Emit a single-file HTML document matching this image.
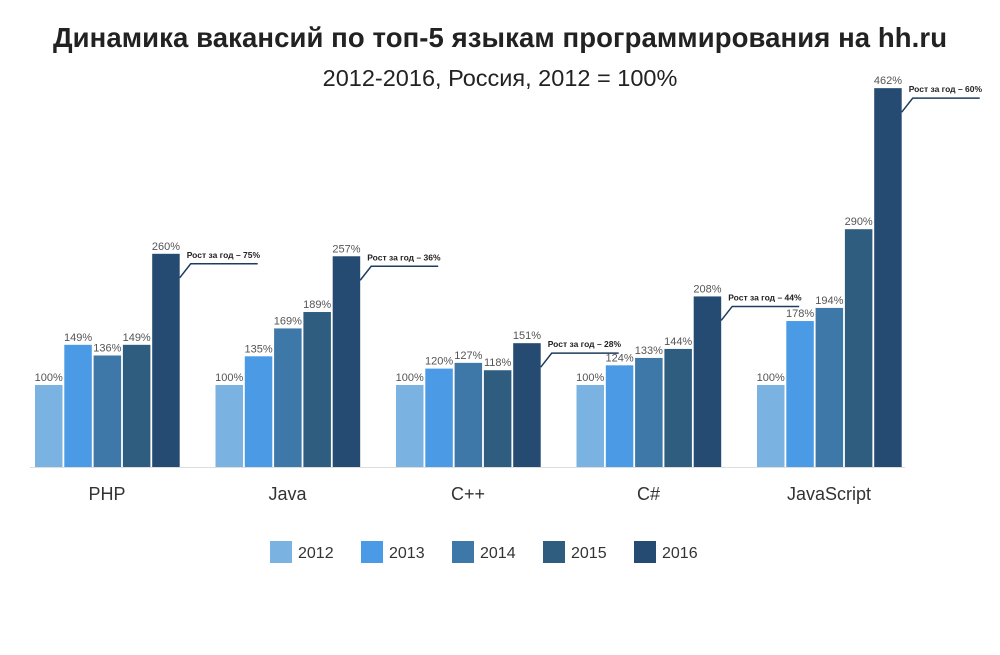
<!DOCTYPE html>
<html><head><meta charset="utf-8"><style>
body{margin:0;background:#fff;width:1000px;height:650px;overflow:hidden;font-family:"Liberation Sans",sans-serif}
</style></head><body>
<svg id="chart" width="1000" height="650" xmlns="http://www.w3.org/2000/svg">
<text x="500" y="47" text-anchor="middle" font-size="27.5" font-weight="bold" fill="#222" textLength="894">Динамика вакансий по топ-5 языкам программирования на hh.ru</text>
<text x="500" y="86" text-anchor="middle" font-size="23.5" fill="#222">2012-2016, Россия, 2012 = 100%</text>
<line x1="30" y1="467.5" x2="905" y2="467.5" stroke="#ddd" stroke-width="1"/>
<g id="bars"></g>
<g id="legend"></g>
</svg>
<script>
const categories=["PHP","Java","C++","C#","JavaScript"];
const years=["2012","2013","2014","2015","2016"];
const v2012=[100,100,100,100,100];
const v2013=[149,135,120,124,178];
const v2014=[136,169,127,133,194];
const v2015=[149,189,118,144,290];
const v2016=[260,257,151,208,462];
const growth=["75%","36%","28%","44%","60%"];
const series=[v2012,v2013,v2014,v2015,v2016];
const colors=["#7ab3e2","#4b9ae6","#3e78a8","#2e5d80","#264b72"];
const NS="http://www.w3.org/2000/svg";
const base=467, scale=0.82;
const y=v=>base-v*scale;
const gx=i=>35+i*180.5;
const bx=(i,s)=>gx(i)+s*29.3;
const g=document.getElementById('bars');
function mk(t,a){const e=document.createElementNS(NS,t);for(const k in a)e.setAttribute(k,a[k]);return e;}
categories.forEach((c,i)=>{
  series.forEach((ser,s)=>{
    const r=mk('rect',{x:bx(i,s),y:y(ser[i]),width:27.5,height:ser[i]*scale,fill:colors[s]});
    
    
    g.appendChild(r);
    const t=mk('text',{x:bx(i,s)+13.75,y:y(ser[i])-4,'text-anchor':'middle','font-size':11,fill:'#555'});
    t.textContent=ser[i]+'%';
    
    
    g.appendChild(t);
  });
  const cl=mk('text',{x:gx(i)+72,y:500,'text-anchor':'middle','font-size':18,fill:'#333'});
  cl.textContent=c;
  
  
  g.appendChild(cl);
  const top=y(v2016[i]), x0=bx(i,4)+27.5;
  const p=mk('path',{d:`M${x0} ${top+24} L${x0+11} ${top+10} L${x0+78} ${top+10}`,stroke:'#1e3d5e','stroke-width':1.5,fill:'none'});
  
  
  g.appendChild(p);
  const a=mk('text',{x:x0+7,y:top+4,'font-size':8.5,'font-weight':'bold',fill:'#222'});
  a.textContent='Рост за год – '+growth[i];
  
  
  g.appendChild(a);
});
const lg=document.getElementById('legend');
years.forEach((yr,s)=>{
  const lx=270+s*91;
  const r=mk('rect',{x:lx,y:541,width:22,height:22,fill:colors[s]});
  
  
  lg.appendChild(r);
  const t=mk('text',{x:lx+28,y:558,'font-size':16,fill:'#333'});
  t.textContent=yr;
  
  
  lg.appendChild(t);
});
</script>
</body></html>
